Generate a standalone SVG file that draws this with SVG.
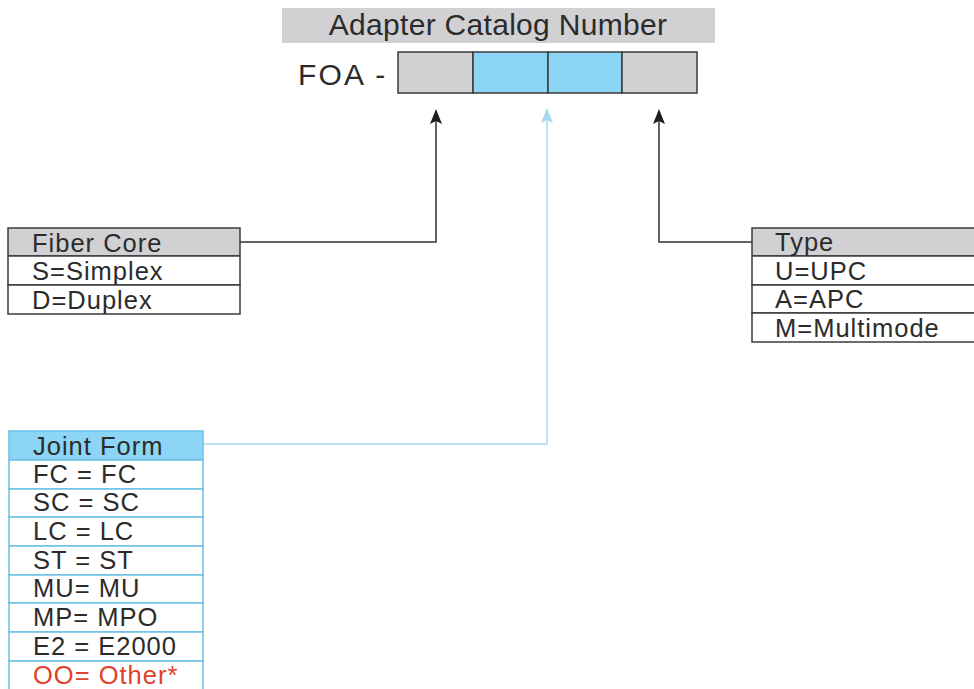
<svg xmlns="http://www.w3.org/2000/svg" width="974" height="689" viewBox="0 0 974 689">
<style>
text{font-family:"Liberation Sans",Arial,sans-serif;fill:#2b2b2b}
.t{font-size:25.5px;letter-spacing:1px}
.g{fill:#d1d1d3}
.b{fill:#8dd5f4}
.w{fill:#ffffff}
.k{stroke:#3a3a3a;stroke-width:1.5}
.bl{stroke:#6cc0e6;stroke-width:1.5}
.cb{fill:none;stroke:#333;stroke-width:1.5}
.cl{fill:none;stroke:#a8d8f2;stroke-width:1.5}
</style>
<rect width="974" height="689" fill="#ffffff"/>
<g id="title">
<rect x="282" y="8" width="433" height="35" class="g"/>
<text x="498" y="35" font-size="30" letter-spacing="0.3" text-anchor="middle">Adapter Catalog Number</text>
</g>
<g id="code">
<text x="298" y="85" font-size="30" letter-spacing="2.2">FOA -</text>
<rect x="398" y="52" width="75" height="41" class="g k"/>
<rect x="473" y="52" width="75" height="41" class="b k"/>
<rect x="548" y="52" width="74" height="41" class="b k"/>
<rect x="622" y="52" width="75" height="41" class="g k"/>
</g>
<g id="connectors">
<path d="M240 242 H436 V118" class="cb"/>
<path d="M752 242 H659 V118" class="cb"/>
<path d="M203 444 H547 V118" class="cl"/>
<path d="M436 109 L442 124 L436 121 L430 124 Z" fill="#1e1e1e"/>
<path d="M659 109 L665 124 L659 121 L653 124 Z" fill="#1e1e1e"/>
<path d="M547 108 L553 123 L547 120 L541 123 Z" fill="#a8d8f2"/>
</g>
<g id="fiber-core">
<rect x="8" y="228" width="232" height="28" class="g k"/>
<rect x="8" y="256" width="232" height="29" class="w k"/>
<rect x="8" y="285" width="232" height="29" class="w k"/>
<text x="32" y="252" class="t">Fiber Core</text>
<text x="32" y="280" class="t">S=Simplex</text>
<text x="32" y="309" class="t">D=Duplex</text>
</g>
<g id="type">
<rect x="752" y="228" width="224" height="28" class="g k"/>
<rect x="752" y="256" width="224" height="29" class="w k"/>
<rect x="752" y="285" width="224" height="28" class="w k"/>
<rect x="752" y="313" width="224" height="29" class="w k"/>
<text x="775" y="251" class="t">Type</text>
<text x="775" y="280" class="t">U=UPC</text>
<text x="775" y="308" class="t">A=APC</text>
<text x="775" y="337" class="t">M=Multimode</text>
</g>
<g id="joint-form">
<rect x="9" y="431" width="194" height="29" class="b bl"/>
<rect x="9" y="460" width="194" height="29" class="w bl"/>
<rect x="9" y="489" width="194" height="28" class="w bl"/>
<rect x="9" y="517" width="194" height="29" class="w bl"/>
<rect x="9" y="546" width="194" height="29" class="w bl"/>
<rect x="9" y="575" width="194" height="28" class="w bl"/>
<rect x="9" y="603" width="194" height="29" class="w bl"/>
<rect x="9" y="632" width="194" height="29" class="w bl"/>
<rect x="9" y="661" width="194" height="40" class="w bl"/>
<text x="33" y="455" class="t">Joint Form</text>
<text x="33" y="483" class="t">FC = FC</text>
<text x="33" y="511" class="t">SC = SC</text>
<text x="33" y="540" class="t">LC = LC</text>
<text x="33" y="569" class="t">ST = ST</text>
<text x="33" y="597" class="t">MU= MU</text>
<text x="33" y="626" class="t">MP= MPO</text>
<text x="33" y="655" class="t">E2 = E2000</text>
<text x="33" y="684" class="t" style="fill:#e0422b">OO= Other*</text>
</g>
</svg>
